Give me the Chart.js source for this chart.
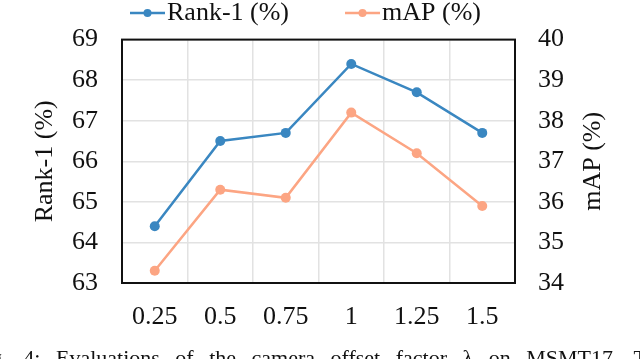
<!DOCTYPE html>
<html>
<head>
<meta charset="utf-8">
<script src="https://cdn.jsdelivr.net/npm/chart.js@4.4.1/dist/chart.umd.min.js"></script>
<style>
  html, body { margin: 0; padding: 0; background: #fff; overflow: hidden; }
  #wrap { position: relative; width: 640px; height: 359px; overflow: hidden; }
  #caption {
    position: absolute; left: -27px; top: 347px; white-space: nowrap;
    font: 22px/22px 'Liberation Serif', 'Times New Roman', serif;
    word-spacing: 10px; color: #111;
  }
</style>
</head>
<body>
<div id="wrap">
  <canvas id="offsetChart" width="640" height="359"></canvas>
  <div id="caption">Fig. 4: Evaluations of the camera offset factor λ on MSMT17. The</div>
</div>
<script>
// ---- chart data ----
const xLabels = ['0.25', '0.5', '0.75', '1', '1.25', '1.5'];
const rank1 = [64.4, 66.5, 66.7, 68.4, 67.7, 66.7];
const mAP = [34.3, 36.3, 36.1, 38.2, 37.2, 35.9];
const seriesNames = ['Rank-1 (%)', 'mAP (%)'];
const leftRange = [63, 69];
const rightRange = [34, 40];
const axisTitles = ['Rank-1 (%)', 'mAP (%)'];

const BLUE = '#3a87c1';
const ORANGE = '#fca583';
const TEXT = '#111';
const GRID = '#e2e2e2';
const FONT = "'Liberation Serif', 'Times New Roman', serif";

Chart.defaults.font.family = FONT;
Chart.defaults.font.size = 26;
Chart.defaults.color = TEXT;

// black box round the plot area
const framePlugin = {
    id: 'frame',
    beforeDatasetsDraw(chart) {
        const { ctx, chartArea: a } = chart;
        ctx.save();
        ctx.strokeStyle = '#111';
        ctx.lineWidth = 2;
        ctx.strokeRect(a.left, a.top, a.right - a.left, a.bottom - a.top);
        ctx.restore();
    }
};

// legend: line with a dot, then label, across the top
const lineLegendPlugin = {
    id: 'lineLegend',
    afterDraw(chart) {
        const { ctx } = chart;
        ctx.save();
        ctx.font = '26px ' + FONT;
        ctx.textBaseline = 'middle';
        ctx.textAlign = 'left';
        let x = 130;
        const y = 13;
        chart.data.datasets.forEach(ds => {
            ctx.strokeStyle = ds.borderColor;
            ctx.lineWidth = 2.5;
            ctx.beginPath();
            ctx.moveTo(x, y);
            ctx.lineTo(x + 35, y);
            ctx.stroke();
            ctx.fillStyle = ds.borderColor;
            ctx.beginPath();
            ctx.arc(x + 17.5, y, 4, 0, Math.PI * 2);
            ctx.fill();
            ctx.fillStyle = TEXT;
            ctx.fillText(ds.label, x + 37, y);
            x += 37 + ctx.measureText(ds.label).width + 56;
        });
        ctx.restore();
    }
};

// right axis title reads bottom to top, like the left one
const rightTitlePlugin = {
    id: 'rightTitle',
    afterDraw(chart) {
        const { ctx, chartArea: a } = chart;
        ctx.save();
        ctx.font = '26px ' + FONT;
        ctx.fillStyle = TEXT;
        ctx.textAlign = 'center';
        ctx.textBaseline = 'middle';
        ctx.translate(593, (a.top + a.bottom) / 2);
        ctx.rotate(-Math.PI / 2);
        ctx.fillText(axisTitles[1], 0, 0);
        ctx.restore();
    }
};

new Chart(document.getElementById('offsetChart'), {
    type: 'line',
    data: {
        labels: xLabels,
        datasets: [{
            label: seriesNames[0],
            data: rank1,
            yAxisID: 'y',
            borderColor: BLUE,
            backgroundColor: BLUE,
            borderWidth: 2.5,
            pointRadius: 5,
            pointBorderWidth: 0,
            tension: 0
        }, {
            label: seriesNames[1],
            data: mAP,
            yAxisID: 'y1',
            borderColor: ORANGE,
            backgroundColor: ORANGE,
            borderWidth: 2.5,
            pointRadius: 5,
            pointBorderWidth: 0,
            tension: 0
        }]
    },
    options: {
        responsive: false,
        animation: false,
        layout: { padding: { top: 32, left: 0, right: 0, bottom: 0 } },
        plugins: {
            legend: { display: false },
            tooltip: { enabled: false }
        },
        scales: {
            x: {
                offset: true,
                grid: { offset: true, color: GRID, lineWidth: 1.5, drawTicks: false },
                border: { display: false },
                ticks: { padding: 19, font: { size: 26 } },
                afterFit(scale) { scale.height = 76; }
            },
            y: {
                position: 'left',
                min: leftRange[0],
                max: leftRange[1],
                grid: { color: GRID, lineWidth: 1.5, drawTicks: false },
                border: { display: false },
                ticks: { stepSize: 1, padding: 24, font: { size: 26 } },
                title: {
                    display: true,
                    text: axisTitles[0],
                    font: { size: 26 },
                    padding: { top: 30, bottom: 0 }
                },
                afterFit(scale) { scale.width = 122; }
            },
            y1: {
                position: 'right',
                min: rightRange[0],
                max: rightRange[1],
                grid: { display: false, drawTicks: false },
                border: { display: false },
                ticks: { stepSize: 1, padding: 23, font: { size: 26 } },
                afterFit(scale) { scale.width = 125; }
            }
        }
    },
    plugins: [framePlugin, lineLegendPlugin, rightTitlePlugin]
});
</script>
</body>
</html>
